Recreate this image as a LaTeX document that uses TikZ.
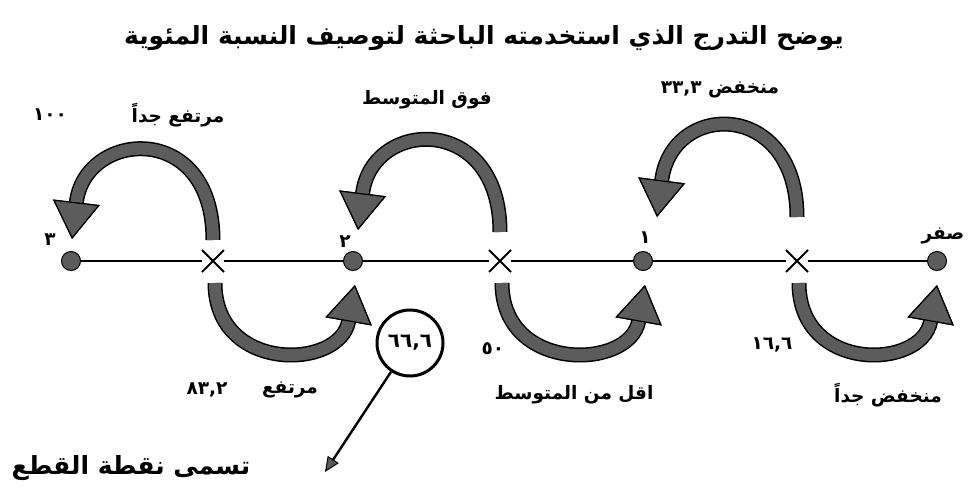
\documentclass[tikz,border=0pt]{standalone}
\usepackage{fontspec}
\newfontfamily\arabicfont[Script=Arabic]{DejaVu Sans}
\TeXXeTstate=1
\usetikzlibrary{arrows.meta, positioning, shapes.misc}
\colorlet{bandgray}{black!64}
\newcommand{\artext}[1]{\arabicfont\bfseries\beginR #1\endR}

\begin{document}
\begin{tikzpicture}[x=1pt,y=-1pt,
    dot/.style={circle,draw=black,fill=bandgray,line width=1pt,minimum size=19pt,inner sep=0pt},
    crossmark/.style={cross out,draw=black,line width=2pt,minimum size=20pt,inner sep=0pt},
    lbl/.style={font=\fontsize{18.5}{22}\selectfont,inner sep=0pt},
    band/.style={draw=bandgray,line width=12pt,
        -{Triangle[width=47pt,length=37pt,line width=1.2pt,color=black,fill=bandgray]},
        preaction={draw=black,line width=15pt}},
    pointer/.style={line width=2.4pt,-{Triangle[width=13pt,length=15pt,line width=1pt,color=black,fill=bandgray]}}]

    \useasboundingbox (0,0) rectangle (969,493);

    % title
    \node[font=\fontsize{25}{30}\selectfont] (title) at (484,38) {\artext{يوضح التدرج الذي استخدمته الباحثة لتوصيف النسبة المئوية}};

    % the scale
    \node[dot] (d3) at (71,261) {};
    \node[dot] (d2) at (353,261) {};
    \node[dot] (d1) at (643,261) {};
    \node[dot] (d0) at (937,261) {};
    \node[crossmark] (x1) at (213,261) {};
    \node[crossmark] (x2) at (500,261) {};
    \node[crossmark] (x3) at (797,261) {};
    \draw[line width=2.6pt] (d3) -- (x1) -- (d2) -- (x2) -- (d1) -- (x3) -- (d0);

    \node[lbl] (t3) at (50,240) {\artext{٣}};
    \node[lbl] (t2) at (345,242) {\artext{٢}};
    \node[lbl] (t1) at (645,238) {\artext{١}};
    \node[lbl] (t0) at (943,236) {\artext{صفر}};

    % upper arrows
    \draw[band] ([shift={(0,-21)}]x1.center) .. controls +(0,-120) and +(13,-109) .. ([shift={(1,-22)}]d3.center);
    \draw[band] ([shift={(0,-29)}]x2.center) .. controls +(0,-119) and +(14,-112) .. ([shift={(5,-31)}]d2.center);
    \draw[band] ([shift={(0,-44)}]x3.center) .. controls +(0,-117) and +(15,-117) .. ([shift={(14,-44)}]d1.center);

    % lower arrows
    \draw[band] ([shift={(2,22)}]x1.center) .. controls +(0,90) and +(-15,85) .. ([shift={(2,24)}]d2.center);
    \draw[band] ([shift={(2,22)}]x2.center) .. controls +(0,90) and +(-15,85) .. ([shift={(2,24)}]d1.center);
    \draw[band] ([shift={(2,22)}]x3.center) .. controls +(0,90) and +(-15,85) .. ([shift={(0,24)}]d0.center);

    % labels above
    \node[lbl] (v100) at (50,115) {\artext{١٠٠}};
    \node[lbl] (vhigh) at (178,115) {\artext{مرتفع جداً}};
    \node[lbl] (above) at (427,100) {\artext{فوق المتوسط}};
    \node[lbl] (low) at (720,90) {\artext{منخفض \beginL٣٣,٣\endL}};

    % labels below
    \node[lbl] (v83) at (207,390) {\artext{٨٣,٢}};
    \node[lbl] (high) at (290,390) {\artext{مرتفع}};
    \node[lbl] (v50) at (493,349) {\artext{٥٠}};
    \node[lbl] (below) at (574,395) {\artext{اقل من المتوسط}};
    \node[lbl] (v16) at (772,345) {\artext{١٦,٦}};
    \node[lbl] (vlow) at (888,395) {\artext{منخفض جداً}};

    % cut point
    \node[circle,draw=black,line width=3pt,fill=white,minimum size=66pt,inner sep=0pt,
          font=\fontsize{20}{24}\selectfont] (cut) at (410,343) {\artext{٦٦,٦}};
    \coordinate (cutend) at (325,472);
    \draw[pointer] (cut) -- (cutend);
    \node[font=\fontsize{25}{30}\selectfont] (cutname) at (131,468) {\artext{تسمى نقطة القطع}};
\end{tikzpicture}
\end{document}
